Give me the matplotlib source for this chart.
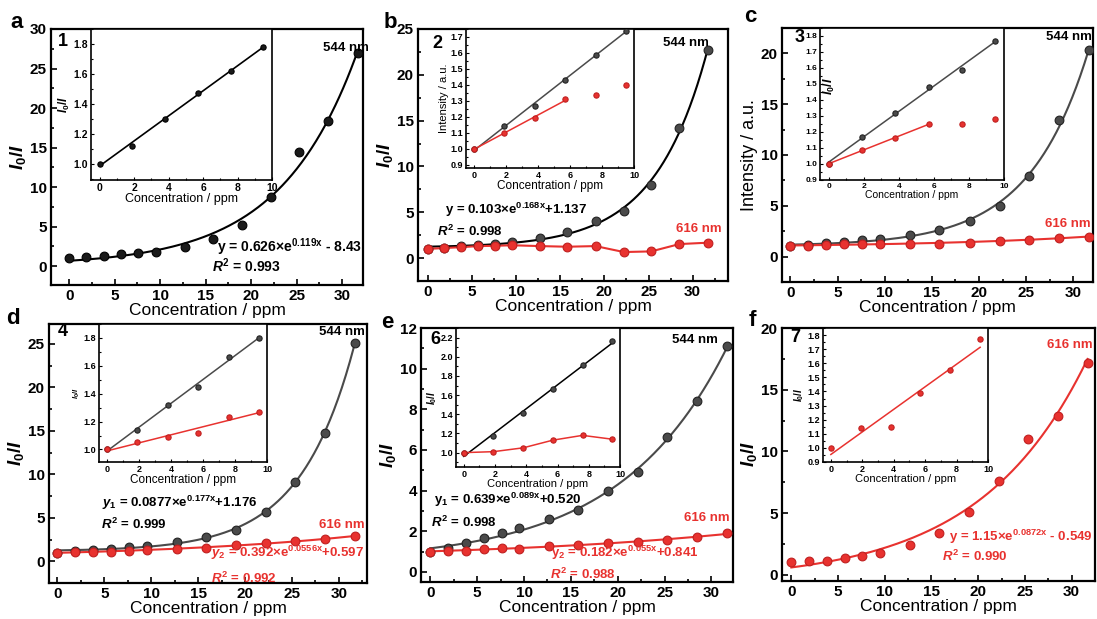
import numpy as np
import matplotlib
matplotlib.use('Agg')
import matplotlib.pyplot as plt
from matplotlib.ticker import MultipleLocator

plt.rcParams['font.family'] = ['Liberation Sans', 'DejaVu Sans']
plt.rcParams['font.weight'] = 'bold'
plt.rcParams['mathtext.fontset'] = 'custom'
plt.rcParams['mathtext.rm'] = 'Liberation Sans:bold'
plt.rcParams['mathtext.bf'] = 'Liberation Sans:bold'
plt.rcParams['mathtext.it'] = 'Liberation Sans:italic:bold'

# concentrations (ppm)
conc = [0, 1.9, 3.8, 5.7, 7.6, 9.5, 12.7, 15.8, 19.0, 22.2, 25.3, 28.5, 31.7]

# I0/I values
a_544 = [1.0, 1.12, 1.30, 1.47, 1.62, 1.78, 2.4, 3.4, 5.2, 8.8, 14.4, 18.3, 26.9]
b_544 = [1.0, 1.14, 1.27, 1.43, 1.59, 1.74, 2.19, 2.85, 4.05, 5.15, 8.03, 14.2, 22.7]
b_616 = [1.0, 1.10, 1.19, 1.31, 1.34, 1.40, 1.31, 1.24, 1.31, 0.66, 0.73, 1.53, 1.68]
c_544 = [1.0, 1.17, 1.32, 1.48, 1.59, 1.77, 2.14, 2.57, 3.49, 5.0, 7.9, 13.4, 20.3]
c_616 = [1.0, 1.09, 1.16, 1.25, 1.25, 1.28, 1.28, 1.28, 1.35, 1.58, 1.68, 1.81, 1.97]
d_544 = [1.0, 1.14, 1.32, 1.45, 1.66, 1.80, 2.22, 2.8, 3.64, 5.68, 9.13, 14.77, 25.1]
d_616 = [1.0, 1.05, 1.09, 1.12, 1.23, 1.27, 1.42, 1.53, 1.84, 2.11, 2.3, 2.57, 2.88]
e_544 = [1.0, 1.17, 1.41, 1.66, 1.91, 2.16, 2.58, 3.04, 3.99, 4.93, 6.65, 8.41, 11.13]
e_616 = [1.0, 1.01, 1.05, 1.13, 1.18, 1.14, 1.28, 1.31, 1.40, 1.48, 1.59, 1.72, 1.89]
f_616 = [1.0, 1.14, 1.15, 1.39, 1.55, 1.77, 2.41, 3.39, 5.13, 7.62, 11.0, 12.9, 17.2]

RED = '#e8322f'
GRAY = '#4a4a4a'
W, H = 1097, 619
MS, IMS = 6.3, 3.8

fig = plt.figure(figsize=(W / 100, H / 100), dpi=100)


def box(l, t, r, b):
    return [l / W, 1 - b / H, (r - l) / W, (b - t) / H]


def txt(x, y, s, size=10, color='black', ha='center', **kw):
    fig.text(x / W, 1 - y / H, s, fontsize=size, color=color, ha=ha, va='center', **kw)


def exp_fit(x, y):
    x = np.asarray(x, float)
    y = np.asarray(y, float)
    best = None
    for k in np.linspace(0.001, 0.4, 4000):
        A = np.column_stack([np.exp(k * x), np.ones_like(x)])
        coef = np.linalg.lstsq(A, y, rcond=None)[0]
        err = np.sum((A @ coef - y) ** 2)
        if best is None or err < best[0]:
            best = (err, k, coef)
    _, k, (a, c) = best
    xs = np.linspace(x.min(), x.max(), 300)
    return xs, a * np.exp(k * xs) + c


def lin_fit(x, y):
    p = np.polyfit(x, y, 1)
    xs = np.array([min(x), max(x)])
    return xs, np.polyval(p, xs)


def balls(ax, x, y, color, ms, edge):
    ax.plot(x, y, 'o', ms=ms, mfc=color, mec=edge, mew=0.8, zorder=3)


def main_axes(rect, xlim, ylim, ystep, ylabel=r'$I_0/I$', ystyle=None):
    ax = fig.add_axes(box(*rect))
    ax.set_xlim(xlim)
    ax.set_ylim(ylim)
    ax.xaxis.set_major_locator(MultipleLocator(5))
    ax.xaxis.set_minor_locator(MultipleLocator(2.5))
    ax.yaxis.set_major_locator(MultipleLocator(ystep))
    ax.yaxis.set_minor_locator(MultipleLocator(ystep / 2))
    ax.tick_params(which='both', direction='in', top=False, right=False,
                   labelsize=11, width=1.2, pad=3)
    ax.tick_params(which='major', length=4)
    ax.tick_params(which='minor', length=2.5)
    for s in ax.spines.values():
        s.set_linewidth(1.6)
    ax.set_xlabel('Concentration / ppm', fontsize=12.5, labelpad=0)
    if ystyle == 'plain':
        ax.set_ylabel(ylabel, fontsize=13, fontweight='normal', labelpad=2)
    else:
        ax.set_ylabel(ylabel, fontsize=13.5, labelpad=1)
    return ax


def inset_axes(rect, ylim, ystep, ylabel, xls=8, yls=8, tls=6.5):
    ax = fig.add_axes(box(*rect))
    ax.set_zorder(5)
    ax.set_xlim(-0.5, 10)
    ax.set_ylim(ylim)
    ax.xaxis.set_major_locator(MultipleLocator(2))
    ax.xaxis.set_minor_locator(MultipleLocator(1))
    ax.yaxis.set_major_locator(MultipleLocator(ystep))
    ax.yaxis.set_minor_locator(MultipleLocator(ystep / 2))
    ax.tick_params(which='both', direction='in', top=False, right=False,
                   labelsize=tls, width=0.8, pad=2)
    ax.tick_params(which='major', length=2.5)
    ax.tick_params(which='minor', length=1.5)
    for s in ax.spines.values():
        s.set_linewidth(1.2)
    ax.set_xlabel('Concentration / ppm', fontsize=xls, labelpad=0)
    ax.set_ylabel(ylabel, fontsize=yls, labelpad=1)
    return ax


x6 = conc[:6]

# ---------------- panel a ----------------
ax = main_axes((51, 29, 363, 285), (-2, 32.3), (-2.4, 30), 5)
ax.plot(*exp_fit(conc, a_544), color='black', lw=1.5)
balls(ax, conc, a_544, '#1a1a1a', MS, 'black')
ins = inset_axes((91, 29, 272, 180), (0.89, 1.9), 0.2, r'$I_0/I$', xls=9, yls=8.5, tls=7.5)
ins.plot(*lin_fit(x6, a_544[:6]), color='black', lw=1.2)
balls(ins, x6, a_544[:6], '#1a1a1a', IMS, 'black')
txt(17, 23, 'a', 16)
txt(63, 42, '1', 13)
txt(346, 48, '544 nm', 9.5)
txt(290, 247, r'y = 0.626×e$^{\mathrm{0.119x}}$ - 8.43', 10)
txt(246, 266, r'$R^2$ = 0.993', 10)
txt(170, 129, 'y = 0.0837 x + 0.981', 6, ha='left')
txt(167, 140, r'$R^2$ = 0.996', 6, ha='left')

# ---------------- panel b ----------------
ax = main_axes((418, 29, 728, 281), (-1.1, 34), (-2.5, 25), 5)
ax.plot(*exp_fit(conc, b_544), color='black', lw=1.5, zorder=2)
ax.plot(conc, b_616, color=RED, lw=1.5, zorder=2)
balls(ax, conc, b_544, GRAY, MS, '#222222')
balls(ax, conc, b_616, RED, MS, '#c02020')
ins = inset_axes((466, 29, 634, 168), (0.88, 1.75), 0.1, 'Intensity / a.u.', xls=8.5, yls=8)
ins.plot(*lin_fit(x6, b_544[:6]), color=GRAY, lw=1.1)
ins.plot(*lin_fit(x6[:4], b_616[:4]), color=RED, lw=1.1)
balls(ins, x6, b_544[:6], GRAY, IMS, '#222222')
balls(ins, x6, b_616[:6], RED, IMS, '#c02020')
txt(390, 22, 'b', 16)
txt(437, 43, '2', 13)
txt(686, 43, '544 nm', 9.5)
txt(516, 210, r'y = 0.103×e$^{\mathrm{0.168x}}$+1.137', 9.5)
txt(470, 231, r'$R^2$ = 0.998', 9.5)
txt(699, 229, '616 nm', 9.5, RED)
txt(487, 67, r'$y_1$ = 0.0787 x + 0.989', 5.5, ha='left')
txt(487, 80, r'$R^2$ = 0.998', 5.5, ha='left')
txt(513, 137, r'$y_2$ = 0.0546 x + 0.996', 5.5, RED, ha='left')
txt(513, 151, r'$R^2$ = 0.995', 5.5, RED, ha='left')

# ---------------- panel c ----------------
ax = main_axes((782, 28, 1093, 282), (-0.9, 32.1), (-2.5, 22.5), 5,
               ylabel='Intensity / a.u.', ystyle='plain')
ax.plot(*exp_fit(conc, c_544), color=GRAY, lw=1.5, zorder=2)
ax.plot(*exp_fit(conc, c_616), color=RED, lw=1.5, zorder=2)
balls(ax, conc, c_544, GRAY, MS, '#222222')
balls(ax, conc, c_616, RED, MS, '#c02020')
ins = inset_axes((820, 28, 1004, 180), (0.9, 1.85), 0.1, r'$I_0/I$', xls=7.5, yls=9, tls=6)
ins.yaxis.set_label_coords(0.09, 0.62)
ins.plot(*lin_fit(x6, c_544[:6]), color=GRAY, lw=1.1)
ins.plot(*lin_fit(x6[:4], c_616[:4]), color=RED, lw=1.1)
balls(ins, x6, c_544[:6], GRAY, IMS, '#222222')
balls(ins, x6, c_616[:6], RED, IMS, '#c02020')
txt(750, 17, 'c', 16)
txt(800, 37, '3', 13)
txt(1069, 37, '544 nm', 9.5)
txt(1068, 224, '616 nm', 9.5, RED)
txt(853, 80, r'$y_1$ = 0.0793 x + 1.01', 5.5, ha='left')
txt(853, 93, r'$R^2$ = 0.996', 5.5, ha='left')
txt(882, 152, r'$y_2$ = 0.0423 x + 1.00', 5.5, RED, ha='left')
txt(882, 163, r'$R^2$ = 0.995', 5.5, RED, ha='left')

# ---------------- panel d ----------------
ax = main_axes((49, 324, 367, 583), (-0.9, 33), (-2.5, 27.3), 5)
ax.plot(*exp_fit(conc, d_544), color=GRAY, lw=1.5, zorder=2)
ax.plot(*exp_fit(conc, d_616), color=RED, lw=1.5, zorder=2)
balls(ax, conc, d_544, GRAY, MS, '#222222')
balls(ax, conc, d_616, RED, MS, '#c02020')
ins = inset_axes((99, 324, 267, 462), (0.91, 1.9), 0.2, r'$I_0/I$', xls=8.5, yls=5.5)
ins.plot(*lin_fit(x6, d_544[:6]), color=GRAY, lw=1.1)
ins.plot(*lin_fit(x6, d_616[:6]), color=RED, lw=1.1)
balls(ins, x6, d_544[:6], GRAY, IMS, '#222222')
balls(ins, x6, d_616[:6], RED, IMS, '#c02020')
txt(13, 318, 'd', 16)
txt(63, 332, '4', 13)
txt(342, 332, '544 nm', 9.5)
txt(180, 503, r'$y_1$ = 0.0877×e$^{\mathrm{0.177x}}$+1.176', 9.5)
txt(134, 524, r'$R^2$ = 0.999', 9.5)
txt(342, 525, '616 nm', 9.5, RED)
txt(287, 553, r'$y_2$ = 0.392×e$^{\mathrm{0.0556x}}$+0.597', 9.5, RED)
txt(244, 578, r'$R^2$ = 0.992', 9.5, RED)
txt(127, 377, r'$y_1$ = 0.0856x + 0.988', 5, ha='left')
txt(127, 388, r'$R^2$ = 0.995', 5, ha='left')
txt(175, 440, r'$y_2$ = 0.0289x + 0.990', 5, RED, ha='left')
txt(175, 452, r'$R^2$ = 0.956', 5, RED, ha='left')

# ---------------- panel e ----------------
ax = main_axes((421, 328, 733, 582), (-1, 32.3), (-0.5, 12), 2)
ax.plot(*exp_fit(conc, e_544), color=GRAY, lw=1.5, zorder=2)
ax.plot(*exp_fit(conc, e_616), color=RED, lw=1.5, zorder=2)
balls(ax, conc, e_544, GRAY, MS, '#222222')
balls(ax, conc, e_616, RED, MS, '#c02020')
ins = inset_axes((456, 328, 620, 467), (0.85, 2.3), 0.2, r'$I_0/I$', xls=8, yls=7)
ins.plot(*lin_fit(x6, e_544[:6]), color='black', lw=1.1)
ins.plot(x6, e_616[:6], color=RED, lw=1.1)
balls(ins, x6, e_544[:6], GRAY, IMS, '#222222')
balls(ins, x6, e_616[:6], RED, IMS, '#c02020')
txt(387, 322, 'e', 16)
txt(435, 340, '6', 13)
txt(695, 340, '544 nm', 9.5)
txt(508, 500, r'y$_1$ = 0.639×e$^{\mathrm{0.089x}}$+0.520', 9.5)
txt(464, 522, r'$R^2$ = 0.998', 9.5)
txt(707, 518, '616 nm', 9.5, RED)
txt(625, 553, r'y$_2$ = 0.182×e$^{\mathrm{0.055x}}$+0.841', 9.5, RED)
txt(583, 574, r'$R^2$ = 0.988', 9.5, RED)
txt(533, 412, 'y = 0.125 x + 0.125', 6, ha='left')
txt(531, 422, r'$R^2$ = 0.995', 6, ha='left')

# ---------------- panel f ----------------
ax = main_axes((782, 328, 1095, 581), (-1, 32.5), (-0.5, 20), 5)
ax.plot(*exp_fit(conc, f_616), color=RED, lw=1.5, zorder=2)
balls(ax, conc, f_616, RED, MS, '#c02020')
ins = inset_axes((823, 328, 988, 462), (0.9, 1.85), 0.1, r'$I_0/I$', xls=8, yls=7)
ins.plot(*lin_fit(x6, f_616[:6]), color=RED, lw=1.1)
balls(ins, x6, f_616[:6], RED, IMS, '#c02020')
txt(752, 320, 'f', 16)
txt(795, 338, '7', 13)
txt(1070, 345, '616 nm', 9.5, RED)
txt(1021, 537, r'y = 1.15×e$^{\mathrm{0.0872x}}$ - 0.549', 9.5, RED)
txt(975, 556, r'$R^2$ = 0.990', 9.5, RED)
txt(910, 407, 'y = 0.0776 x + 0.985', 5.5, ha='left')
txt(906, 418, r'$R^2$ = 0.985', 5.5, ha='left')

fig.savefig('out.png', dpi=100)
